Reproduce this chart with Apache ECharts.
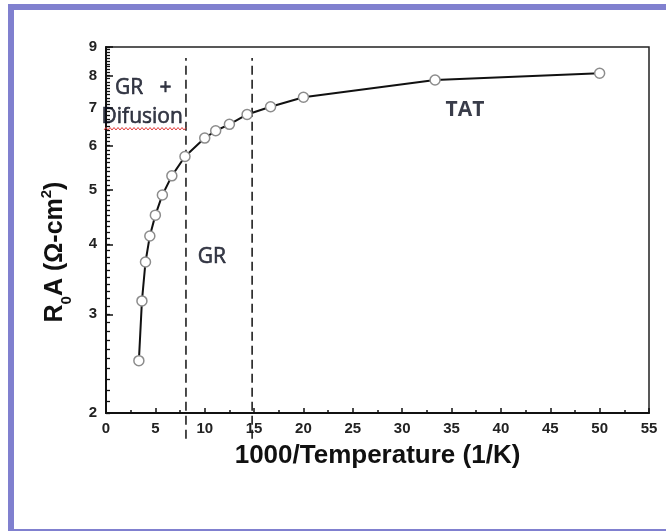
<!DOCTYPE html>
<html>
<head>
<meta charset="utf-8">
<script src="https://cdn.jsdelivr.net/npm/echarts@6/dist/echarts.min.js"></script>
<style>
  html, body { margin: 0; padding: 0; background: #fff; }
  #wrap { position: relative; width: 666px; height: 531px; overflow: hidden; }
  #chart { position: absolute; left: 0; top: 0; width: 666px; height: 531px; }
  .bar { position: absolute; background: #8080cf; }
</style>
</head>
<body>
<div id="wrap">
  <div id="chart"></div>
  <div class="bar" style="left:8px;top:4px;width:6px;height:527px"></div>
  <div class="bar" style="left:8px;top:4px;width:658px;height:6px"></div>
  <div class="bar" style="left:8px;top:529px;width:658px;height:2px"></div>
</div>
<script>
// R0A vs 1000/T, log y axis drawn as log10 values on a value axis so the
// 2..9 labels can sit exactly where the original puts them.

const invTemp = [3.33, 3.64, 4.0, 4.44, 5.0, 5.71, 6.67, 8.0, 10.0, 11.11, 12.5, 14.29, 16.67, 20.0, 33.33, 50.0];
const r0a = [2.48, 3.17, 3.72, 4.14, 4.51, 4.90, 5.30, 5.74, 6.19, 6.38, 6.55, 6.82, 7.04, 7.32, 7.86, 8.08];

const yTickLabels = [2, 3, 4, 5, 6, 7, 8, 9];
const dividerX = [8.1, 14.8];
const dividerSpan = [1.8, 8.6];

const noteText = ['GR   +', 'Difusion', 'GR', 'TAT'];
const noteX = [0.9, -0.45, 9.3, 34.4];
const noteY = [7.6, 6.75, 3.8, 6.95];
const noteBold = [false, false, false, true];

const lg = (v) => Math.log10(v);
const Y_MIN = lg(2);
const Y_MAX = lg(9);

const minorTicks = [];
for (let v = 20; v <= 90; v++) minorTicks.push(lg(v / 10));
const majorTicks = yTickLabels.map(lg);

const TICK_FONT = { fontFamily: 'Liberation Sans', fontWeight: 'bold', fontSize: 15, color: '#222' };

const chart = echarts.init(document.getElementById('chart'), null, { renderer: 'canvas' });

const dividerSeries = dividerX.map((x) => ({
  type: 'line',
  silent: true,
  clip: false,
  symbol: 'none',
  z: 1,
  data: dividerSpan.map((r) => [x, lg(r)]),
  lineStyle: { color: '#111', width: 1.5, type: [9, 5] },
}));

chart.setOption({
  animation: false,
  backgroundColor: '#fff',
  grid: { left: 106, right: 17, top: 47, bottom: 118, show: true, borderColor: '#222', borderWidth: 1.5 },
  xAxis: {
    type: 'value',
    min: 0, max: 55, interval: 5,
    name: '1000/Temperature (1/K)',
    nameLocation: 'middle',
    nameGap: 30,
    nameTextStyle: { fontFamily: 'Liberation Sans', fontWeight: 'bold', fontSize: 26, color: '#111' },
    axisLine: { show: true, lineStyle: { color: '#111', width: 2 } },
    axisTick: { show: true, inside: true, length: 5, lineStyle: { color: '#111', width: 1.5 } },
    minorTick: { show: true, splitNumber: 2, length: 3, lineStyle: { color: '#111', width: 1.5 } },
    axisLabel: Object.assign({ margin: 8, showMinLabel: true, showMaxLabel: true }, TICK_FONT),
    splitLine: { show: false },
  },
  yAxis: [
    {
      type: 'value',
      min: Y_MIN, max: Y_MAX,
      name: 'R{s|0}A (Ω-cm{p|2})',
      nameLocation: 'middle',
      nameGap: 38,
      nameTextStyle: {
        fontFamily: 'Liberation Sans', fontWeight: 'bold', fontSize: 25, color: '#111',
        padding: [0, 44, 0, 0],
        rich: {
          s: { fontFamily: 'Liberation Sans', fontWeight: 'bold', fontSize: 15, color: '#111', verticalAlign: 'bottom', padding: [0, 0, -6, 0] },
          p: { fontFamily: 'Liberation Sans', fontWeight: 'bold', fontSize: 15, color: '#111', verticalAlign: 'top', padding: [-4, 0, 0, 0] },
        },
      },
      axisLine: { show: true, lineStyle: { color: '#111', width: 2 } },
      axisTick: { show: true, inside: true, length: 4, customValues: minorTicks, lineStyle: { color: '#111', width: 1.3 } },
      axisLabel: Object.assign({
        margin: 9,
        customValues: majorTicks,
        formatter: (v) => String(Math.round(Math.pow(10, v))),
      }, TICK_FONT),
      splitLine: { show: false },
    },
    {
      type: 'value',
      min: Y_MIN, max: Y_MAX,
      position: 'left',
      axisLine: { show: false },
      axisTick: { show: true, inside: true, length: 7, customValues: majorTicks, lineStyle: { color: '#111', width: 1.5 } },
      axisLabel: { show: false },
      splitLine: { show: false },
    },
  ],
  series: [
    ...dividerSeries,
    {
      name: 'R0A',
      type: 'line',
      z: 3,
      data: invTemp.map((x, i) => [x, lg(r0a[i])]),
      symbol: 'circle',
      symbolSize: 10,
      showAllSymbol: true,
      lineStyle: { color: '#111', width: 2 },
      itemStyle: { color: '#fff', borderColor: '#8c8c8c', borderWidth: 1.5 },
    },
    {
      type: 'scatter',
      silent: true,
      clip: false,
      symbolSize: 0,
      z: 10,
      zlevel: 1,
      data: noteText.map((t, i) => ({
        value: [noteX[i], lg(noteY[i])],
        label: {
          show: true,
          formatter: t,
          position: [0, 0],
          align: 'left',
          verticalAlign: 'middle',
          fontFamily: 'Open Sans',
          fontSize: 21,
          fontWeight: noteBold[i] ? 'bold' : 'normal',
          color: '#070b1c',
          textBorderColor: '#070b1c',
          textBorderWidth: noteBold[i] ? 0 : 0.6,
        },
      })),
    },
  ],
  graphic: [
    {
      type: 'polyline',
      silent: true,
      z: 10,
      shape: {
        points: Array.from({ length: 42 }, (_, k) => [104 + k * 2, k % 2 ? 127.5 : 130]),
      },
      style: { stroke: '#e23b3b', lineWidth: 1, fill: null },
    },
  ],
});
</script>
</body>
</html>
